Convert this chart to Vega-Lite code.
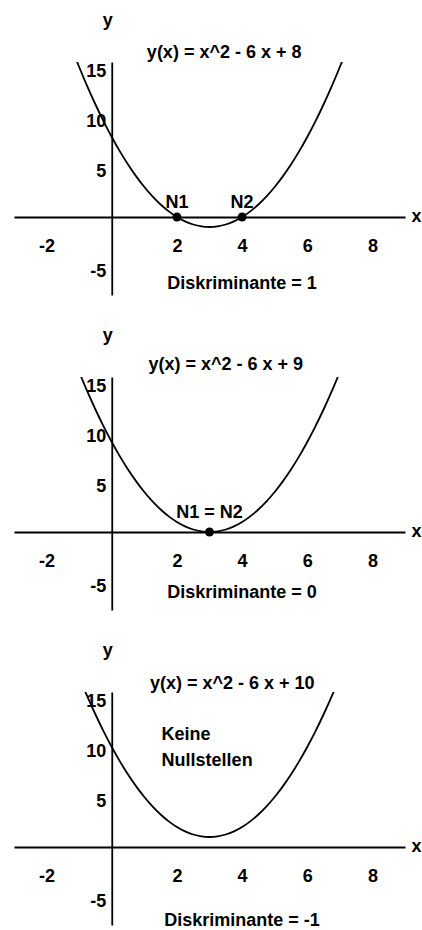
{
  "$schema": "https://vega.github.io/schema/vega-lite/v6.json",
  "background": "white",
  "padding": {"left": 14, "top": 12, "right": 0, "bottom": 0},
  "spacing": 82,
  "bounds": "flush",
  "config": {
    "view": {"stroke": null},
    "font": "Liberation Sans",
    "text": {"font": "Liberation Sans", "color": "black", "baseline": "middle", "align": "center", "fontWeight": "bold"},
    "axis": {
      "domainColor": "black",
      "domainWidth": 1.8,
      "ticks": false,
      "tickSize": 0,
      "grid": false,
      "labelFont": "Liberation Sans",
      "labelFontSize": 18,
      "labelFontWeight": "bold",
      "labelColor": "black",
      "labelFlush": false,
      "labelOverlap": false,
      "labelBound": false,
      "labelExpr": "datum.value < 0 ? '-' + abs(datum.value) : '' + datum.value"
    },
    "axisX": {"labelPadding": 20},
    "axisY": {"labelPadding": 6, "labelOffset": 4}
  },
  "datasets": {
    "kurven": [
      {"c": 8, "x": -1.25, "y": 17.0625}, {"c": 8, "x": -1, "y": 15}, {"c": 8, "x": -0.75, "y": 13.0625}, {"c": 8, "x": -0.5, "y": 11.25},
      {"c": 8, "x": -0.25, "y": 9.5625}, {"c": 8, "x": 0, "y": 8}, {"c": 8, "x": 0.25, "y": 6.5625}, {"c": 8, "x": 0.5, "y": 5.25},
      {"c": 8, "x": 0.75, "y": 4.0625}, {"c": 8, "x": 1, "y": 3}, {"c": 8, "x": 1.25, "y": 2.0625}, {"c": 8, "x": 1.5, "y": 1.25},
      {"c": 8, "x": 1.75, "y": 0.5625}, {"c": 8, "x": 2, "y": 0}, {"c": 8, "x": 2.25, "y": -0.4375}, {"c": 8, "x": 2.5, "y": -0.75},
      {"c": 8, "x": 2.75, "y": -0.9375}, {"c": 8, "x": 3, "y": -1}, {"c": 8, "x": 3.25, "y": -0.9375}, {"c": 8, "x": 3.5, "y": -0.75},
      {"c": 8, "x": 3.75, "y": -0.4375}, {"c": 8, "x": 4, "y": 0}, {"c": 8, "x": 4.25, "y": 0.5625}, {"c": 8, "x": 4.5, "y": 1.25},
      {"c": 8, "x": 4.75, "y": 2.0625}, {"c": 8, "x": 5, "y": 3}, {"c": 8, "x": 5.25, "y": 4.0625}, {"c": 8, "x": 5.5, "y": 5.25},
      {"c": 8, "x": 5.75, "y": 6.5625}, {"c": 8, "x": 6, "y": 8}, {"c": 8, "x": 6.25, "y": 9.5625}, {"c": 8, "x": 6.5, "y": 11.25},
      {"c": 8, "x": 6.75, "y": 13.0625}, {"c": 8, "x": 7, "y": 15}, {"c": 8, "x": 7.25, "y": 17.0625},

      {"c": 9, "x": -1.25, "y": 18.0625}, {"c": 9, "x": -1, "y": 16}, {"c": 9, "x": -0.75, "y": 14.0625}, {"c": 9, "x": -0.5, "y": 12.25},
      {"c": 9, "x": -0.25, "y": 10.5625}, {"c": 9, "x": 0, "y": 9}, {"c": 9, "x": 0.25, "y": 7.5625}, {"c": 9, "x": 0.5, "y": 6.25},
      {"c": 9, "x": 0.75, "y": 5.0625}, {"c": 9, "x": 1, "y": 4}, {"c": 9, "x": 1.25, "y": 3.0625}, {"c": 9, "x": 1.5, "y": 2.25},
      {"c": 9, "x": 1.75, "y": 1.5625}, {"c": 9, "x": 2, "y": 1}, {"c": 9, "x": 2.25, "y": 0.5625}, {"c": 9, "x": 2.5, "y": 0.25},
      {"c": 9, "x": 2.75, "y": 0.0625}, {"c": 9, "x": 3, "y": 0}, {"c": 9, "x": 3.25, "y": 0.0625}, {"c": 9, "x": 3.5, "y": 0.25},
      {"c": 9, "x": 3.75, "y": 0.5625}, {"c": 9, "x": 4, "y": 1}, {"c": 9, "x": 4.25, "y": 1.5625}, {"c": 9, "x": 4.5, "y": 2.25},
      {"c": 9, "x": 4.75, "y": 3.0625}, {"c": 9, "x": 5, "y": 4}, {"c": 9, "x": 5.25, "y": 5.0625}, {"c": 9, "x": 5.5, "y": 6.25},
      {"c": 9, "x": 5.75, "y": 7.5625}, {"c": 9, "x": 6, "y": 9}, {"c": 9, "x": 6.25, "y": 10.5625}, {"c": 9, "x": 6.5, "y": 12.25},
      {"c": 9, "x": 6.75, "y": 14.0625}, {"c": 9, "x": 7, "y": 16}, {"c": 9, "x": 7.25, "y": 18.0625},

      {"c": 10, "x": -1.25, "y": 19.0625}, {"c": 10, "x": -1, "y": 17}, {"c": 10, "x": -0.75, "y": 15.0625}, {"c": 10, "x": -0.5, "y": 13.25},
      {"c": 10, "x": -0.25, "y": 11.5625}, {"c": 10, "x": 0, "y": 10}, {"c": 10, "x": 0.25, "y": 8.5625}, {"c": 10, "x": 0.5, "y": 7.25},
      {"c": 10, "x": 0.75, "y": 6.0625}, {"c": 10, "x": 1, "y": 5}, {"c": 10, "x": 1.25, "y": 4.0625}, {"c": 10, "x": 1.5, "y": 3.25},
      {"c": 10, "x": 1.75, "y": 2.5625}, {"c": 10, "x": 2, "y": 2}, {"c": 10, "x": 2.25, "y": 1.5625}, {"c": 10, "x": 2.5, "y": 1.25},
      {"c": 10, "x": 2.75, "y": 1.0625}, {"c": 10, "x": 3, "y": 1}, {"c": 10, "x": 3.25, "y": 1.0625}, {"c": 10, "x": 3.5, "y": 1.25},
      {"c": 10, "x": 3.75, "y": 1.5625}, {"c": 10, "x": 4, "y": 2}, {"c": 10, "x": 4.25, "y": 2.5625}, {"c": 10, "x": 4.5, "y": 3.25},
      {"c": 10, "x": 4.75, "y": 4.0625}, {"c": 10, "x": 5, "y": 5}, {"c": 10, "x": 5.25, "y": 6.0625}, {"c": 10, "x": 5.5, "y": 7.25},
      {"c": 10, "x": 5.75, "y": 8.5625}, {"c": 10, "x": 6, "y": 10}, {"c": 10, "x": 6.25, "y": 11.5625}, {"c": 10, "x": 6.5, "y": 13.25},
      {"c": 10, "x": 6.75, "y": 15.0625}, {"c": 10, "x": 7, "y": 17}, {"c": 10, "x": 7.25, "y": 19.0625}
    ],
    "nullstellen": [
      {"c": 8, "x": 2, "y": 0},
      {"c": 8, "x": 4, "y": 0},
      {"c": 9, "x": 3, "y": 0}
    ],
    "funktionen": [
      {"c": 8, "t": "y(x) = x^2 - 6 x + 8", "x": 3.45, "y": 16.4},
      {"c": 9, "t": "y(x) = x^2 - 6 x + 9", "x": 3.5, "y": 16.7},
      {"c": 10, "t": "y(x) = x^2 - 6 x + 10", "x": 3.7, "y": 16.3}
    ],
    "beschriftung": [
      {"c": 8, "t": "y", "x": -0.12, "y": 19.6},
      {"c": 8, "t": "x", "x": 9.35, "y": 0},
      {"c": 8, "t": "N1", "x": 2, "y": 1.41},
      {"c": 8, "t": "N2", "x": 4, "y": 1.41},
      {"c": 8, "t": "Diskriminante = 1", "x": 4, "y": -6.74},
      {"c": 9, "t": "y", "x": -0.12, "y": 19.6},
      {"c": 9, "t": "x", "x": 9.35, "y": 0},
      {"c": 9, "t": "N1 = N2", "x": 3, "y": 1.86},
      {"c": 9, "t": "Diskriminante = 0", "x": 4, "y": -6.14},
      {"c": 10, "t": "y", "x": -0.12, "y": 19.6},
      {"c": 10, "t": "x", "x": 9.35, "y": 0},
      {"c": 10, "t": "Diskriminante = -1", "x": 4, "y": -7.35}
    ],
    "hinweis": [
      {"c": 10, "t": "Keine", "x": 1.53, "y": 11.16},
      {"c": 10, "t": "Nullstellen", "x": 1.53, "y": 8.56}
    ]
  },
  "vconcat": [
    {
      "width": 391,
      "height": 233,
      "encoding": {
        "x": {"field": "x", "type": "quantitative", "scale": {"domain": [-3, 9], "nice": false, "zero": false},
              "axis": {"orient": "bottom", "offset": -78, "values": [-2, 2, 4, 6, 8], "title": null}},
        "y": {"field": "y", "type": "quantitative", "scale": {"domain": [-7.8, 15.5], "nice": false, "zero": false},
              "axis": {"orient": "left", "offset": -97.75, "values": [-5, 5, 10, 15], "title": null}}
      },
      "layer": [
        {"data": {"name": "kurven"}, "transform": [{"filter": "datum.c == 8"}],
         "mark": {"type": "line", "color": "black", "strokeWidth": 1.8, "interpolate": "monotone", "clip": true}},
        {"data": {"name": "nullstellen"}, "transform": [{"filter": "datum.c == 8"}],
         "mark": {"type": "point", "filled": true, "color": "black", "opacity": 1, "size": 80}},
        {"data": {"name": "funktionen"}, "transform": [{"filter": "datum.c == 8"}],
         "mark": {"type": "text", "fontSize": 18}, "encoding": {"text": {"field": "t"}}},
        {"data": {"name": "beschriftung"}, "transform": [{"filter": "datum.c == 8"}],
         "mark": {"type": "text", "fontSize": 18}, "encoding": {"text": {"field": "t"}}}
      ]
    },
    {
      "width": 391,
      "height": 233,
      "encoding": {
        "x": {"field": "x", "type": "quantitative", "scale": {"domain": [-3, 9], "nice": false, "zero": false},
              "axis": {"orient": "bottom", "offset": -78, "values": [-2, 2, 4, 6, 8], "title": null}},
        "y": {"field": "y", "type": "quantitative", "scale": {"domain": [-7.8, 15.5], "nice": false, "zero": false},
              "axis": {"orient": "left", "offset": -97.75, "values": [-5, 5, 10, 15], "title": null}}
      },
      "layer": [
        {"data": {"name": "kurven"}, "transform": [{"filter": "datum.c == 9"}],
         "mark": {"type": "line", "color": "black", "strokeWidth": 1.8, "interpolate": "monotone", "clip": true}},
        {"data": {"name": "nullstellen"}, "transform": [{"filter": "datum.c == 9"}],
         "mark": {"type": "point", "filled": true, "color": "black", "opacity": 1, "size": 80}},
        {"data": {"name": "funktionen"}, "transform": [{"filter": "datum.c == 9"}],
         "mark": {"type": "text", "fontSize": 18}, "encoding": {"text": {"field": "t"}}},
        {"data": {"name": "beschriftung"}, "transform": [{"filter": "datum.c == 9"}],
         "mark": {"type": "text", "fontSize": 18}, "encoding": {"text": {"field": "t"}}}
      ]
    },
    {
      "width": 391,
      "height": 233,
      "encoding": {
        "x": {"field": "x", "type": "quantitative", "scale": {"domain": [-3, 9], "nice": false, "zero": false},
              "axis": {"orient": "bottom", "offset": -78, "values": [-2, 2, 4, 6, 8], "title": null}},
        "y": {"field": "y", "type": "quantitative", "scale": {"domain": [-7.8, 15.5], "nice": false, "zero": false},
              "axis": {"orient": "left", "offset": -97.75, "values": [-5, 5, 10, 15], "title": null}}
      },
      "layer": [
        {"data": {"name": "kurven"}, "transform": [{"filter": "datum.c == 10"}],
         "mark": {"type": "line", "color": "black", "strokeWidth": 1.8, "interpolate": "monotone", "clip": true}},
        {"data": {"name": "funktionen"}, "transform": [{"filter": "datum.c == 10"}],
         "mark": {"type": "text", "fontSize": 18}, "encoding": {"text": {"field": "t"}}},
        {"data": {"name": "beschriftung"}, "transform": [{"filter": "datum.c == 10"}],
         "mark": {"type": "text", "fontSize": 18}, "encoding": {"text": {"field": "t"}}},
        {"data": {"name": "hinweis"}, "transform": [{"filter": "datum.c == 10"}],
         "mark": {"type": "text", "fontSize": 18, "align": "left"}, "encoding": {"text": {"field": "t"}}}
      ]
    }
  ]
}
